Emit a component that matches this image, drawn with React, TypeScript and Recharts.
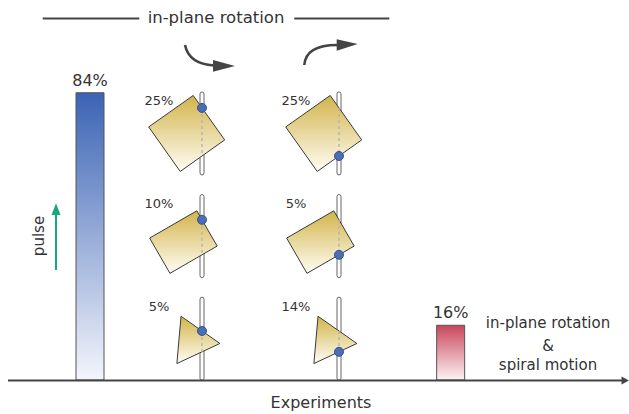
import React from 'react';
import { ComposedChart, Bar, Scatter, XAxis, YAxis, Cell, LabelList } from 'recharts';

// success rate per experiment
const experiments = ['pulse', 'in-plane rotation', 'in-plane rotation & spiral motion'];
const successRates: (number | null)[] = [84, null, 16];
const barFills = ['url(#pulseFill)', 'none', 'url(#spiralFill)'];

// in-plane rotation sub-experiments, one row per object shape
const shapes = ['square', 'rectangle', 'triangle'];
const clockwiseRates = [25, 10, 5];
const counterRates = [25, 5, 14];

const chartData = experiments.map((exp, i) => ({ exp, rate: successRates[i] }));
const rotationData = shapes.map((form, i) => ({
  exp: experiments[1],
  row: i,
  form,
  cw: clockwiseRates[i],
  ccw: counterRates[i],
}));

const FONT = "'DejaVu Sans', sans-serif";
const INK = '#333';
const STICK_GAP = 68.5;
const STICK_LEN = 83;

type Pt = [number, number];

const rot = (x: number, y: number, deg: number): Pt => {
  const a = (deg * Math.PI) / 180;
  return [x * Math.cos(a) - y * Math.sin(a), x * Math.sin(a) + y * Math.cos(a)];
};

const box = (w: number, h: number, deg: number, ox: number, oy: number): Pt[] =>
  ([[-w / 2, -h / 2], [w / 2, -h / 2], [w / 2, h / 2], [-w / 2, h / 2]] as Pt[]).map(([x, y]) => {
    const [rx, ry] = rot(x, y, deg);
    return [rx + ox, ry + oy];
  });

const outline = (form: string): Pt[] => {
  if (form === 'square') return box(54.5, 54.5, -35.3, -15.3, 0);
  if (form === 'rectangle') return box(54.5, 40.7, -30, -18.6, 6);
  return [5, 125, 245].map((a) => {
    const r = (a * Math.PI) / 180;
    return [-9.4 + 27.4 * Math.cos(r), 2.4 + 27.4 * Math.sin(r)] as Pt;
  });
};

// where the object's outline crosses the stick (x = 0)
const crossings = (pts: Pt[]) => {
  const ys: number[] = [];
  pts.forEach(([x1, y1], i) => {
    const [x2, y2] = pts[(i + 1) % pts.length];
    if ((x1 <= 0 && x2 > 0) || (x2 <= 0 && x1 > 0)) ys.push(y1 + ((0 - x1) * (y2 - y1)) / (x2 - x1));
  });
  return ys.sort((a, b) => a - b);
};

const Figure = ({ sx, cy, form, rate, dotAtTop }: any) => {
  const pts = outline(form);
  const [top, bottom] = crossings(pts);
  return (
    <g>
      <rect x={sx - 2} y={cy - STICK_LEN / 2} width={4} height={STICK_LEN} rx={2} fill="#fff" stroke="#666" strokeWidth={1} />
      <polygon
        points={pts.map(([x, y]) => `${sx + x},${cy + y}`).join(' ')}
        fill="url(#goldFill)"
        stroke="#3a3a3a"
        strokeWidth={1}
      />
      <line x1={sx} x2={sx} y1={cy + top} y2={cy + bottom} stroke="#b5b5b5" strokeWidth={1.5} strokeDasharray="3 3" />
      <circle cx={sx} cy={cy + (dotAtTop ? top : bottom)} r={4.5} fill="#4a6db4" stroke="#33528f" strokeWidth={1} />
      <text x={sx - 43} y={cy - 28} textAnchor="middle" fontSize={13} fill={INK} fontFamily={FONT}>
        {rate}%
      </text>
    </g>
  );
};

const RotationRow = (props: any) => {
  const { cx, cy, payload } = props;
  return (
    <g>
      <Figure sx={cx - STICK_GAP} cy={cy} form={payload.form} rate={payload.cw} dotAtTop />
      <Figure sx={cx + STICK_GAP} cy={cy} form={payload.form} rate={payload.ccw} dotAtTop={false} />
    </g>
  );
};

const Annotations = () => (
  <svg width={629} height={414} style={{ position: 'absolute', left: 0, top: 0, pointerEvents: 'none' }} fontFamily={FONT}>
    {/* title */}
    <line x1={42.7} x2={139.3} y1={18.5} y2={18.5} stroke="#444" strokeWidth={2} />
    <line x1={294.3} x2={389.3} y1={18.5} y2={18.5} stroke="#444" strokeWidth={2} />
    <text x={216} y={23} textAnchor="middle" fontSize={16.5} fill={INK}>in-plane rotation</text>

    {/* rotation direction arrows */}
    <path d="M185,45 Q189,64 214,65.5" fill="none" stroke="#444" strokeWidth={2.6} />
    <polygon points="213,60 235,66 213,71.7" fill="#444" />
    <path d="M304.3,65 Q306,45 337,45" fill="none" stroke="#444" strokeWidth={2.6} />
    <polygon points="336.7,39.3 357.7,44 336.7,50.7" fill="#444" />

    {/* pulse */}
    <text x={44} y={236} transform="rotate(-90, 44, 236)" textAnchor="middle" fontSize={15} fill={INK}>pulse</text>
    <line x1={56} x2={56} y1={270} y2={214} stroke="#1aa67f" strokeWidth={2} />
    <polygon points="51.5,215 56,203.3 60.5,215" fill="#1aa67f" />

    {/* experiments axis */}
    <line x1={8} x2={622} y1={380.5} y2={380.5} stroke="#444" strokeWidth={2.2} />
    <polygon points="621.5,376.5 629,380.5 621.5,384.5" fill="#444" />
    <text x={321} y={408} textAnchor="middle" fontSize={16} fill={INK}>Experiments</text>

    {/* spiral label */}
    <text x={548} y={328} textAnchor="middle" fontSize={15} fill={INK}>in-plane rotation</text>
    <text x={548} y={351} textAnchor="middle" fontSize={15} fill={INK}>&amp;</text>
    <text x={548} y={370} textAnchor="middle" fontSize={15} fill={INK}>spiral motion</text>
  </svg>
);

export default function App() {
  return (
    <div style={{ position: 'absolute', left: 0, top: 0, width: 629, height: 414, background: '#fff', fontFamily: FONT }}>
      <ComposedChart width={629} height={414} data={chartData} margin={{ top: 38, right: 88, bottom: 24, left: 0 }}>
        <defs>
          <linearGradient id="pulseFill" x1="0" y1="0" x2="0" y2="1">
            <stop offset="0%" stopColor="#3b63b5" />
            <stop offset="100%" stopColor="#f3f5fb" />
          </linearGradient>
          <linearGradient id="spiralFill" x1="0" y1="0" x2="0" y2="1">
            <stop offset="0%" stopColor="#c8465b" />
            <stop offset="100%" stopColor="#fdf3f4" />
          </linearGradient>
          <linearGradient id="goldFill" x1="0" y1="0" x2="0" y2="1">
            <stop offset="0%" stopColor="#d2b44b" />
            <stop offset="100%" stopColor="#fffdf4" />
          </linearGradient>
        </defs>
        <XAxis dataKey="exp" type="category" allowDuplicatedCategory={false} hide />
        <YAxis yAxisId="pct" domain={[0, 100]} padding={{ top: 0, bottom: 10 }} hide />
        <YAxis yAxisId="rows" dataKey="row" type="number" domain={[-0.93, 2.5]} reversed hide />
        <Bar yAxisId="pct" dataKey="rate" barSize={28} stroke="#555" strokeWidth={1} isAnimationActive={false}>
          {chartData.map((d, i) => (
            <Cell key={d.exp} fill={barFills[i]} />
          ))}
          <LabelList
            dataKey="rate"
            position="top"
            offset={7}
            fontSize={16}
            fill={INK}
            formatter={(v: any) => (v == null ? '' : `${v}%`)}
          />
        </Bar>
        <Scatter
          yAxisId="rows"
          data={rotationData}
          dataKey="row"
          shape={RotationRow}
          isAnimationActive={false}
        />
      </ComposedChart>
      <Annotations />
    </div>
  );
}
